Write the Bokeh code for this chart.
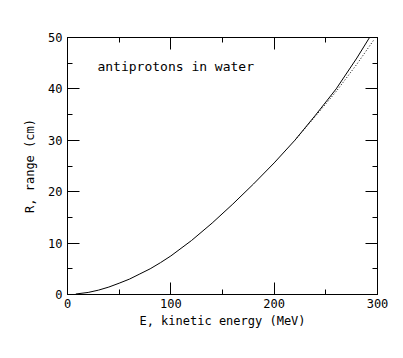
from bokeh.plotting import figure
from bokeh.models import LinearAxis, Label, FixedTicker
from bokeh.embed import file_html
from bokeh.resources import INLINE

# main curve: antiproton range in water
energy = [8, 20, 30, 40, 50, 60, 70, 80, 90, 100, 120, 140, 160, 180, 200, 220, 240, 260, 280, 292]
range_cm = [0.1, 0.4, 0.85, 1.45, 2.2, 3.0, 4.0, 5.0, 6.2, 7.5, 10.5, 13.9, 17.6, 21.5, 25.6, 30.0, 34.9, 40.0, 46.0, 49.9]

# second (dotted) curve diverging at high energy
energy2 = [220, 240, 260, 280, 296]
range2_cm = [30.0, 34.7, 39.5, 44.8, 49.4]

x_ticks = [0, 100, 200, 300]
y_ticks = [0, 10, 20, 30, 40, 50]

FONT = "DejaVu Sans Mono"

p = figure(frame_width=310, frame_height=257, x_range=(0, 300), y_range=(0, 50),
           output_backend="svg", toolbar_location=None,
           min_border_left=67, min_border_top=37, min_border_right=15, min_border_bottom=50)
p.xgrid.visible = False
p.ygrid.visible = False
p.outline_line_color = "black"
p.outline_line_width = 1
p.background_fill_color = "white"
p.border_fill_color = "white"

def style(ax, labels=True):
    ax.major_tick_in = 12
    ax.major_tick_out = 0
    ax.minor_tick_in = 5
    ax.minor_tick_out = 0
    ax.axis_line_color = "black"
    ax.major_tick_line_color = "black"
    ax.minor_tick_line_color = "black"
    ax.major_label_text_font = FONT
    ax.major_label_text_font_size = "12px"
    ax.major_label_text_color = "black"
    ax.axis_label_text_font = FONT
    ax.axis_label_text_font_size = "12px"
    ax.axis_label_text_font_style = "normal"
    ax.axis_label_text_color = "black"
    if not labels:
        ax.major_label_text_font_size = "0px"
        ax.major_label_text_alpha = 0

xa = p.xaxis[0]
ya = p.yaxis[0]
xa.ticker = FixedTicker(ticks=x_ticks, minor_ticks=[50, 150, 250])
ya.ticker = FixedTicker(ticks=y_ticks, minor_ticks=[5, 15, 25, 35, 45])
style(xa)
style(ya)
xa.axis_label = "E, kinetic energy (MeV)"
ya.axis_label = "R, range (cm)"
xa.major_label_standoff = 4
ya.major_label_standoff = 5
xa.axis_label_standoff = 3
ya.axis_label_standoff = 8

top = LinearAxis(ticker=FixedTicker(ticks=x_ticks, minor_ticks=[50, 150, 250]))
right = LinearAxis(ticker=FixedTicker(ticks=y_ticks, minor_ticks=[5, 15, 25, 35, 45]))
style(top, labels=False)
style(right, labels=False)
top.major_label_standoff = 0
right.major_label_standoff = 0
p.add_layout(top, "above")
p.add_layout(right, "right")

p.line(energy, range_cm, line_color="black", line_width=1)
p.line(energy2, range2_cm, line_color="black", line_width=1, line_dash="1 2")

p.add_layout(Label(x=29, y=44.3, text="antiprotons in water", text_font=FONT,
                   text_font_size="13px", text_color="black", text_baseline="middle"))

open("out.html", "w").write(file_html(p, INLINE))
